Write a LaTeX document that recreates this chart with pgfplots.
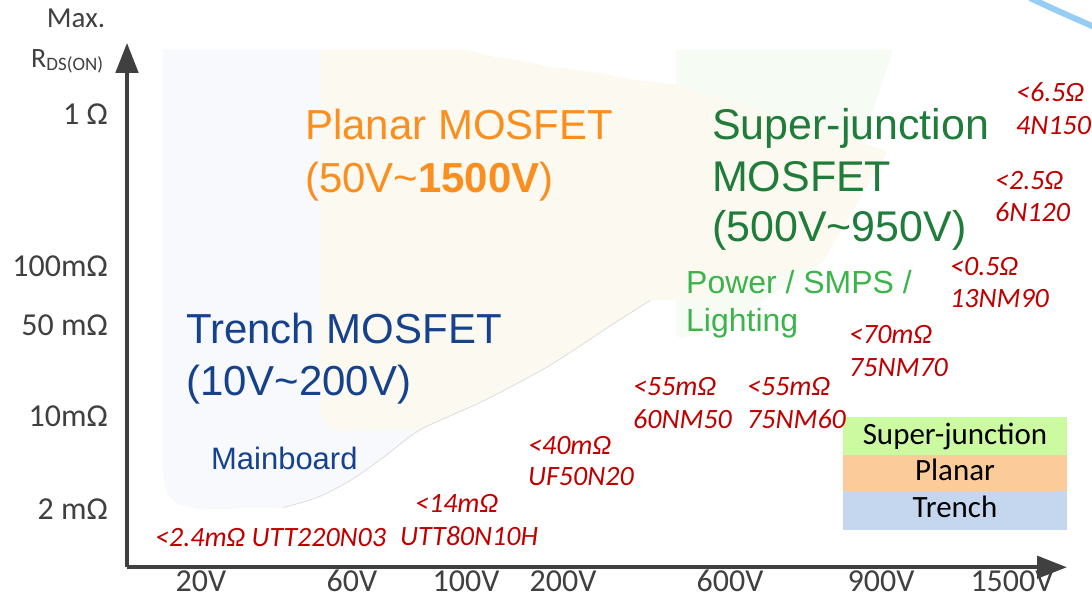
\documentclass[border=0pt]{standalone}
\usepackage{pgfplots}
\pgfplotsset{compat=1.18}
\usetikzlibrary{arrows.meta}
\usepackage{fontspec}
\setmainfont{Carlito}
\newfontfamily\arial{Liberation Sans}
\definecolor{axgray}{RGB}{64,64,64}
\definecolor{orangec}{RGB}{250,142,30}
\definecolor{sjgreen}{RGB}{31,124,58}
\definecolor{ltgreen}{RGB}{60,180,75}
\definecolor{dkblue}{RGB}{22,66,140}
\definecolor{redc}{RGB}{192,0,0}
\definecolor{trenchbg}{RGB}{247,249,253}
\definecolor{planarbg}{RGB}{251,249,240}
\definecolor{sjbg}{RGB}{246,251,244}
\definecolor{legsj}{RGB}{204,250,160}
\definecolor{legpl}{RGB}{251,203,154}
\definecolor{legtr}{RGB}{197,215,238}
\definecolor{streak}{RGB}{150,205,245}
\newcommand{\fs}[1]{\fontsize{#1}{#1}\selectfont}
\begin{document}
\begin{tikzpicture}
\begin{axis}[
  scale only axis, width=941pt, height=525pt,
  xmin=127, xmax=1067, ymin=0, ymax=527,
  axis lines=left,
  axis line style={line width=4.5pt, draw=axgray},
  x axis line style={-{Triangle[length=30pt,width=22pt]}},
  y axis line style={-{Triangle[length=30pt,width=22pt]}},
  major tick length=0pt,
  tick style={draw=none},
  xtick={201,352,466,563,730,881,1012},
  xticklabels={20V,60V,100V,200V,600V,900V,1500V},
  ytick={58,152,243,302,455},
  yticklabels={2 mΩ,10mΩ,50 mΩ,100mΩ,1 Ω},
  ticklabel style={font=\fs{32}, text=axgray, inner sep=0pt},
  xticklabel style={anchor=center, yshift=-14pt},
  yticklabel style={anchor=east, xshift=-19pt},
  clip=false,
]
% background regions
\addplot[fill=trenchbg, draw=none] coordinates {(163,520) (335,520) (420,138) (383,110) (350,87) (317,70) (283,60) (200,58) (178,63) (166,75) (163,95)} -- cycle;
\addplot[fill=sjbg, draw=none] coordinates {(676,520) (893,520) (823,307) (720,240) (680,230) (676,235)} -- cycle;
\addplot[fill=planarbg, draw=none] coordinates {(320,520) (467,520) (493,513) (517,510) (550,503) (597,497) (633,490) (676,485) (888,418) (823,307) (700,270) (650,268) (617,247) (550,203) (483,167) (420,138) (337,137) (323,145) (320,160)} -- cycle;
\addplot[draw=black!15, line width=0.7pt, smooth] coordinates {(283,60) (317,70) (350,87) (383,110) (420,138) (483,167) (550,203) (617,247) (650,268)};
% decorative streak
\addplot[draw=streak, line width=6pt, smooth] coordinates {(1030,572) (1058,559) (1094,543)};
% legend boxes
\addplot[fill=legsj, draw=none] coordinates {(843,151) (1067,151) (1067,113) (843,113)} -- cycle;
\addplot[fill=legpl, draw=none] coordinates {(843,113) (1067,113) (1067,77) (843,77)} -- cycle;
\addplot[fill=legtr, draw=none] coordinates {(843,77) (1067,77) (1067,37) (843,37)} -- cycle;
\node[anchor=base, font=\fs{31}, text=black] at (axis cs:955,123) {Super-junction};
\node[anchor=base, font=\fs{31}, text=black] at (axis cs:955,87) {Planar};
\node[anchor=base, font=\fs{31}, text=black] at (axis cs:955,50) {Trench};
% axis title
\node[anchor=base, font=\fs{29}, text=axgray] at (axis cs:76,542) {Max.};
\node[anchor=base west, inner sep=0pt, text=axgray] at (axis cs:31,502) {\fs{28}R\raisebox{-3pt}{\fs{19}DS(ON)}};
% region titles
\begin{scope}[every node/.style={anchor=base west, inner sep=0pt}]
\node[font=\arial\fs{42}, text=orangec] at (axis cs:305,430) {Planar MOSFET};
\node[font=\arial\fs{42}, text=orangec] at (axis cs:305,377) {(50V\textasciitilde\textbf{1500V})};
\node[font=\arial\fs{43}, text=sjgreen] at (axis cs:712,430) {Super-junction};
\node[font=\arial\fs{43}, text=sjgreen] at (axis cs:712,378) {MOSFET};
\node[font=\arial\fs{43}, text=sjgreen] at (axis cs:712,327) {(500V\textasciitilde950V)};
\node[font=\arial\fs{42}, text=dkblue] at (axis cs:186,225) {Trench MOSFET};
\node[font=\arial\fs{42}, text=dkblue] at (axis cs:186,173) {(10V\textasciitilde200V)};
\node[font=\arial\fs{31}, text=dkblue] at (axis cs:211,98) {Mainboard};
\node[font=\arial\fs{32}, text=ltgreen] at (axis cs:686,275) {Power / SMPS /};
\node[font=\arial\fs{32}, text=ltgreen] at (axis cs:686,237) {Lighting};
% red part labels
\node[font=\itshape\fs{28}, text=redc] at (axis cs:155,21) {<2.4mΩ UTT220N03};
\node[font=\itshape\fs{28}, text=redc] at (axis cs:400,22) {UTT80N10H};
\node[font=\itshape\fs{28}, text=redc] at (axis cs:415,55) {<14mΩ};
\node[font=\itshape\fs{28}, text=redc] at (axis cs:528,113) {<40mΩ};
\node[font=\itshape\fs{28}, text=redc] at (axis cs:528,82) {UF50N20};
\node[font=\itshape\fs{28}, text=redc] at (axis cs:633,173) {<55mΩ};
\node[font=\itshape\fs{28}, text=redc] at (axis cs:633,139) {60NM50};
\node[font=\itshape\fs{28}, text=redc] at (axis cs:747,173) {<55mΩ};
\node[font=\itshape\fs{28}, text=redc] at (axis cs:747,139) {75NM60};
\node[font=\itshape\fs{28}, text=redc] at (axis cs:849,225) {<70mΩ};
\node[font=\itshape\fs{28}, text=redc] at (axis cs:849,192) {75NM70};
\node[font=\itshape\fs{28}, text=redc] at (axis cs:950,293) {<0.5Ω};
\node[font=\itshape\fs{28}, text=redc] at (axis cs:950,261) {13NM90};
\node[font=\itshape\fs{28}, text=redc] at (axis cs:995,380) {<2.5Ω};
\node[font=\itshape\fs{28}, text=redc] at (axis cs:995,347) {6N120};
\node[font=\itshape\fs{28}, text=redc] at (axis cs:1016,468) {<6.5Ω};
\node[font=\itshape\fs{28}, text=redc] at (axis cs:1016,435) {4N150};
\end{scope}
\coordinate (BL) at (axis cs:0,-32);
\coordinate (TR) at (axis cs:1092,570);
\end{axis}
\pgfresetboundingbox
\path[use as bounding box] (BL) rectangle (TR);
\end{tikzpicture}
\end{document}
